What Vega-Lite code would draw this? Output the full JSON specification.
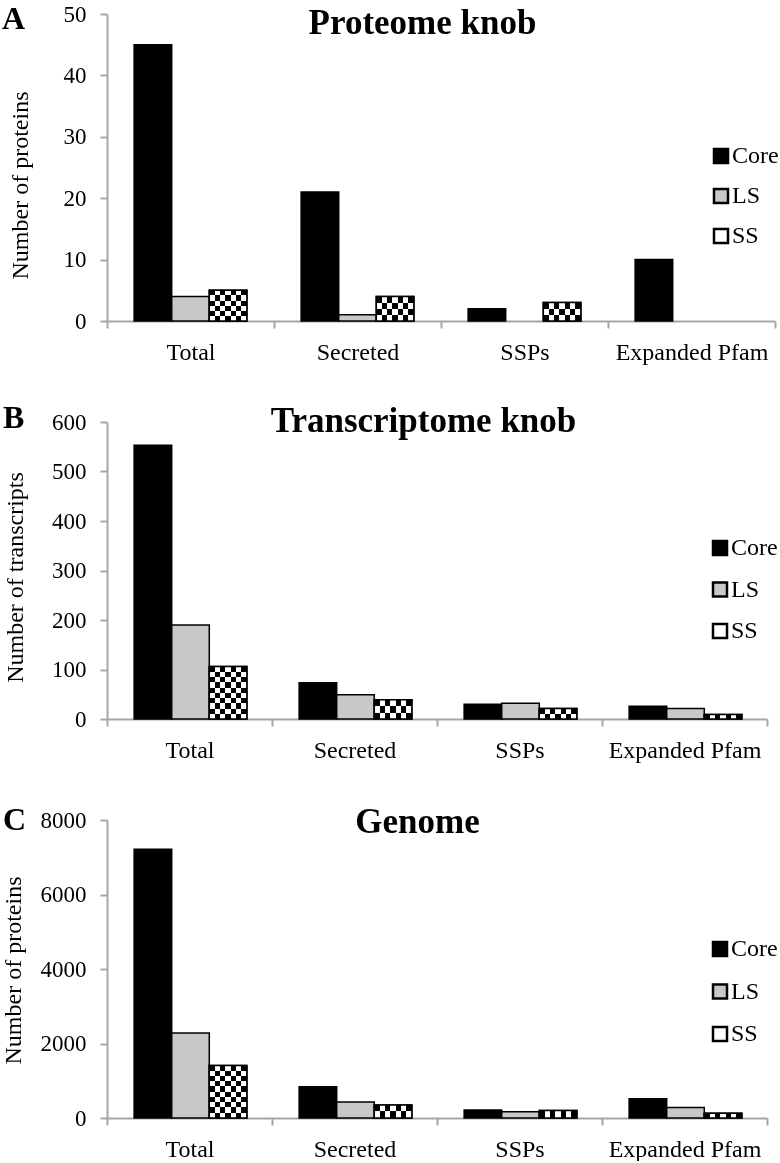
{
  "$schema": "https://vega.github.io/schema/vega-lite/v6.json",
  "background": "white",
  "padding": {"left": 0, "top": 3, "right": 0, "bottom": 0},
  "spacing": 101,
  "bounds": "flush",
  "resolve": {"scale": {"fill": "independent"}, "legend": {"fill": "independent"}},
  "datasets": {
    "proteome": [
      {"category": "Total", "series": "Core", "value": 45},
      {"category": "Total", "series": "LS", "value": 4},
      {"category": "Total", "series": "SS", "value": 5},
      {"category": "Secreted", "series": "Core", "value": 21},
      {"category": "Secreted", "series": "LS", "value": 1},
      {"category": "Secreted", "series": "SS", "value": 4},
      {"category": "SSPs", "series": "Core", "value": 2},
      {"category": "SSPs", "series": "LS", "value": 0},
      {"category": "SSPs", "series": "SS", "value": 3},
      {"category": "Expanded Pfam", "series": "Core", "value": 10},
      {"category": "Expanded Pfam", "series": "LS", "value": 0},
      {"category": "Expanded Pfam", "series": "SS", "value": 0}
    ],
    "transcriptome": [
      {"category": "Total", "series": "Core", "value": 553},
      {"category": "Total", "series": "LS", "value": 190},
      {"category": "Total", "series": "SS", "value": 106},
      {"category": "Secreted", "series": "Core", "value": 73},
      {"category": "Secreted", "series": "LS", "value": 49},
      {"category": "Secreted", "series": "SS", "value": 39},
      {"category": "SSPs", "series": "Core", "value": 30},
      {"category": "SSPs", "series": "LS", "value": 32},
      {"category": "SSPs", "series": "SS", "value": 21},
      {"category": "Expanded Pfam", "series": "Core", "value": 26},
      {"category": "Expanded Pfam", "series": "LS", "value": 21},
      {"category": "Expanded Pfam", "series": "SS", "value": 9}
    ],
    "genome": [
      {"category": "Total", "series": "Core", "value": 7214},
      {"category": "Total", "series": "LS", "value": 2280},
      {"category": "Total", "series": "SS", "value": 1411},
      {"category": "Secreted", "series": "Core", "value": 840},
      {"category": "Secreted", "series": "LS", "value": 429},
      {"category": "Secreted", "series": "SS", "value": 349},
      {"category": "SSPs", "series": "Core", "value": 215},
      {"category": "SSPs", "series": "LS", "value": 165},
      {"category": "SSPs", "series": "SS", "value": 200},
      {"category": "Expanded Pfam", "series": "Core", "value": 520},
      {"category": "Expanded Pfam", "series": "LS", "value": 285},
      {"category": "Expanded Pfam", "series": "SS", "value": 130}
    ]
  },
  "vconcat": [
    {
      "width": 668,
      "height": 307,
      "data": {"name": "proteome"},
      "title": {"text": "A", "anchor": "start", "frame": "group", "fontSize": 32, "fontWeight": "bold", "color": "black", "font": "Liberation Serif", "offset": -33, "dx": -105},
      "encoding": {
        "x": {"field": "category", "type": "nominal", "sort": null,
          "scale": {"domain": ["Total", "Secreted", "SSPs", "Expanded Pfam"], "paddingInner": 0, "paddingOuter": 0},
          "axis": {"title": "Proteome knob", "titleFontSize": 35, "titleFontWeight": "bold", "titleX": 315, "titleY": -288, "titleAlign": "center", "titleBaseline": "alphabetic", "labelAngle": 0, "labelFontSize": 24, "labelPadding": 12, "tickBand": "extent"}},
        "xOffset": {"field": "series", "type": "nominal", "scale": {"domain": ["Core", "LS", "SS"], "paddingInner": 0, "paddingOuter": 0.722}},
        "y": {"field": "value", "type": "quantitative", "scale": {"domain": [0, 50], "nice": false},
          "axis": {"title": "Number of proteins", "values": [0, 10, 20, 30, 40, 50], "titleFontSize": 24, "titleFontWeight": "normal", "titleX": -75, "titleY": 171, "labelFontSize": 23, "labelPadding": 14}}
      },
      "layer": [
        {
          "mark": {"type": "bar", "stroke": "black", "strokeWidth": 1.5},
          "encoding": {
            "fill": {"field": "series", "type": "nominal", "scale": {"domain": ["Core", "LS", "SS"], "range": ["black", "#c8c8c8", "white"]},
              "legend": {"orient": "none", "legendX": 602, "legendY": 130, "title": null, "rowPadding": 16}},
            "strokeOpacity": {"condition": {"test": "datum.value == 0", "value": 0}, "value": 1}
          }
        },
        {
          "transform": [{"filter": "datum.series === 'SS' && datum.value > 0"}],
          "mark": {"type": "bar", "stroke": "black", "strokeWidth": 1.5,
            "fill": {"gradient": "linear", "x1": 0, "y1": 0, "x2": 1, "y2": 0, "stops": [{"offset": 0, "color": "black"}, {"offset": 0.142857, "color": "black"}, {"offset": 0.142857, "color": "white"}, {"offset": 0.285714, "color": "white"}, {"offset": 0.285714, "color": "black"}, {"offset": 0.428571, "color": "black"}, {"offset": 0.428571, "color": "white"}, {"offset": 0.571429, "color": "white"}, {"offset": 0.571429, "color": "black"}, {"offset": 0.714286, "color": "black"}, {"offset": 0.714286, "color": "white"}, {"offset": 0.857143, "color": "white"}, {"offset": 0.857143, "color": "black"}, {"offset": 1, "color": "black"}]}}
        },
        {
          "transform": [{"filter": "datum.series === 'SS' && datum.value > 0"}],
          "mark": {"type": "bar", "stroke": "black", "strokeWidth": 1.5, "blend": "difference"},
          "encoding": {
            "fill": {
              "condition": [
                {"test": "datum.category === 'Total'", "value": {"gradient": "linear", "x1": 0, "y1": 0, "x2": 0, "y2": 1, "stops": [{"offset": 0, "color": "black"}, {"offset": 0.166667, "color": "black"}, {"offset": 0.166667, "color": "white"}, {"offset": 0.333333, "color": "white"}, {"offset": 0.333333, "color": "black"}, {"offset": 0.5, "color": "black"}, {"offset": 0.5, "color": "white"}, {"offset": 0.666667, "color": "white"}, {"offset": 0.666667, "color": "black"}, {"offset": 0.833333, "color": "black"}, {"offset": 0.833333, "color": "white"}, {"offset": 1, "color": "white"}]}},
                {"test": "datum.category === 'Secreted'", "value": {"gradient": "linear", "x1": 0, "y1": 0, "x2": 0, "y2": 1, "stops": [{"offset": 0, "color": "black"}, {"offset": 0.25, "color": "black"}, {"offset": 0.25, "color": "white"}, {"offset": 0.5, "color": "white"}, {"offset": 0.5, "color": "black"}, {"offset": 0.75, "color": "black"}, {"offset": 0.75, "color": "white"}, {"offset": 1, "color": "white"}]}},
                {"test": "datum.category === 'SSPs'", "value": {"gradient": "linear", "x1": 0, "y1": 0, "x2": 0, "y2": 1, "stops": [{"offset": 0, "color": "black"}, {"offset": 0.333333, "color": "black"}, {"offset": 0.333333, "color": "white"}, {"offset": 0.666667, "color": "white"}, {"offset": 0.666667, "color": "black"}, {"offset": 1, "color": "black"}]}}
              ],
              "value": "black"
            }
          }
        }
      ]
    },
    {
      "width": 660,
      "height": 297,
      "data": {"name": "transcriptome"},
      "title": {"text": "B", "anchor": "start", "frame": "group", "fontSize": 32, "fontWeight": "bold", "color": "black", "font": "Liberation Serif", "offset": -32, "dx": -104},
      "encoding": {
        "x": {"field": "category", "type": "nominal", "sort": null,
          "scale": {"domain": ["Total", "Secreted", "SSPs", "Expanded Pfam"], "paddingInner": 0, "paddingOuter": 0},
          "axis": {"title": "Transcriptome knob", "titleFontSize": 35, "titleFontWeight": "bold", "titleX": 316, "titleY": -288, "titleAlign": "center", "titleBaseline": "alphabetic", "labelAngle": 0, "labelFontSize": 24, "labelPadding": 12, "tickBand": "extent"}},
        "xOffset": {"field": "series", "type": "nominal", "scale": {"domain": ["Core", "LS", "SS"], "paddingInner": 0, "paddingOuter": 0.79}},
        "y": {"field": "value", "type": "quantitative", "scale": {"domain": [0, 600], "nice": false},
          "axis": {"title": "Number of transcripts", "values": [0, 100, 200, 300, 400, 500, 600], "titleFontSize": 24, "titleFontWeight": "normal", "titleX": -80, "titleY": 155, "labelFontSize": 23, "labelPadding": 14}}
      },
      "layer": [
        {
          "mark": {"type": "bar", "stroke": "black", "strokeWidth": 1.5},
          "encoding": {
            "fill": {"field": "series", "type": "nominal", "scale": {"domain": ["Core", "LS", "SS"], "range": ["black", "#c8c8c8", "white"]},
              "legend": {"orient": "none", "legendX": 601, "legendY": 114, "title": null, "rowPadding": 17.5}},
            "strokeOpacity": {"condition": {"test": "datum.value == 0", "value": 0}, "value": 1}
          }
        },
        {
          "transform": [{"filter": "datum.series === 'SS' && datum.value > 0"}],
          "mark": {"type": "bar", "stroke": "black", "strokeWidth": 1.5,
            "fill": {"gradient": "linear", "x1": 0, "y1": 0, "x2": 1, "y2": 0, "stops": [{"offset": 0, "color": "black"}, {"offset": 0.142857, "color": "black"}, {"offset": 0.142857, "color": "white"}, {"offset": 0.285714, "color": "white"}, {"offset": 0.285714, "color": "black"}, {"offset": 0.428571, "color": "black"}, {"offset": 0.428571, "color": "white"}, {"offset": 0.571429, "color": "white"}, {"offset": 0.571429, "color": "black"}, {"offset": 0.714286, "color": "black"}, {"offset": 0.714286, "color": "white"}, {"offset": 0.857143, "color": "white"}, {"offset": 0.857143, "color": "black"}, {"offset": 1, "color": "black"}]}}
        },
        {
          "transform": [{"filter": "datum.series === 'SS' && datum.value > 0"}],
          "mark": {"type": "bar", "stroke": "black", "strokeWidth": 1.5, "blend": "difference"},
          "encoding": {
            "fill": {
              "condition": [
                {"test": "datum.category === 'Total'", "value": {"gradient": "linear", "x1": 0, "y1": 0, "x2": 0, "y2": 1, "stops": [{"offset": 0, "color": "black"}, {"offset": 0.1, "color": "black"}, {"offset": 0.1, "color": "white"}, {"offset": 0.2, "color": "white"}, {"offset": 0.2, "color": "black"}, {"offset": 0.3, "color": "black"}, {"offset": 0.3, "color": "white"}, {"offset": 0.4, "color": "white"}, {"offset": 0.4, "color": "black"}, {"offset": 0.5, "color": "black"}, {"offset": 0.5, "color": "white"}, {"offset": 0.6, "color": "white"}, {"offset": 0.6, "color": "black"}, {"offset": 0.7, "color": "black"}, {"offset": 0.7, "color": "white"}, {"offset": 0.8, "color": "white"}, {"offset": 0.8, "color": "black"}, {"offset": 0.9, "color": "black"}, {"offset": 0.9, "color": "white"}, {"offset": 1, "color": "white"}]}},
                {"test": "datum.category === 'Secreted'", "value": {"gradient": "linear", "x1": 0, "y1": 0, "x2": 0, "y2": 1, "stops": [{"offset": 0, "color": "black"}, {"offset": 0.333333, "color": "black"}, {"offset": 0.333333, "color": "white"}, {"offset": 0.666667, "color": "white"}, {"offset": 0.666667, "color": "black"}, {"offset": 1, "color": "black"}]}},
                {"test": "datum.category === 'SSPs'", "value": {"gradient": "linear", "x1": 0, "y1": 0, "x2": 0, "y2": 1, "stops": [{"offset": 0, "color": "black"}, {"offset": 0.5, "color": "black"}, {"offset": 0.5, "color": "white"}, {"offset": 1, "color": "white"}]}}
              ],
              "value": "black"
            }
          }
        }
      ]
    },
    {
      "width": 660,
      "height": 298,
      "data": {"name": "genome"},
      "title": {"text": "C", "anchor": "start", "frame": "group", "fontSize": 32, "fontWeight": "bold", "color": "black", "font": "Liberation Serif", "offset": -33, "dx": -104},
      "encoding": {
        "x": {"field": "category", "type": "nominal", "sort": null,
          "scale": {"domain": ["Total", "Secreted", "SSPs", "Expanded Pfam"], "paddingInner": 0, "paddingOuter": 0},
          "axis": {"title": "Genome", "titleFontSize": 35, "titleFontWeight": "bold", "titleX": 310, "titleY": -286, "titleAlign": "center", "titleBaseline": "alphabetic", "labelAngle": 0, "labelFontSize": 24, "labelPadding": 12, "tickBand": "extent"}},
        "xOffset": {"field": "series", "type": "nominal", "scale": {"domain": ["Core", "LS", "SS"], "paddingInner": 0, "paddingOuter": 0.739}},
        "y": {"field": "value", "type": "quantitative", "scale": {"domain": [0, 8000], "nice": false},
          "axis": {"title": "Number of proteins", "values": [0, 2000, 4000, 6000, 8000], "format": "d", "titleFontSize": 24, "titleFontWeight": "normal", "titleX": -82, "titleY": 150, "labelFontSize": 23, "labelPadding": 14}}
      },
      "layer": [
        {
          "mark": {"type": "bar", "stroke": "black", "strokeWidth": 1.5},
          "encoding": {
            "fill": {"field": "series", "type": "nominal", "scale": {"domain": ["Core", "LS", "SS"], "range": ["black", "#c8c8c8", "white"]},
              "legend": {"orient": "none", "legendX": 601, "legendY": 117, "title": null, "rowPadding": 18.5}},
            "strokeOpacity": {"condition": {"test": "datum.value == 0", "value": 0}, "value": 1}
          }
        },
        {
          "transform": [{"filter": "datum.series === 'SS' && datum.value > 0"}],
          "mark": {"type": "bar", "stroke": "black", "strokeWidth": 1.5,
            "fill": {"gradient": "linear", "x1": 0, "y1": 0, "x2": 1, "y2": 0, "stops": [{"offset": 0, "color": "black"}, {"offset": 0.142857, "color": "black"}, {"offset": 0.142857, "color": "white"}, {"offset": 0.285714, "color": "white"}, {"offset": 0.285714, "color": "black"}, {"offset": 0.428571, "color": "black"}, {"offset": 0.428571, "color": "white"}, {"offset": 0.571429, "color": "white"}, {"offset": 0.571429, "color": "black"}, {"offset": 0.714286, "color": "black"}, {"offset": 0.714286, "color": "white"}, {"offset": 0.857143, "color": "white"}, {"offset": 0.857143, "color": "black"}, {"offset": 1, "color": "black"}]}}
        },
        {
          "transform": [{"filter": "datum.series === 'SS' && datum.value > 0"}],
          "mark": {"type": "bar", "stroke": "black", "strokeWidth": 1.5, "blend": "difference"},
          "encoding": {
            "fill": {
              "condition": [
                {"test": "datum.category === 'Total'", "value": {"gradient": "linear", "x1": 0, "y1": 0, "x2": 0, "y2": 1, "stops": [{"offset": 0, "color": "black"}, {"offset": 0.1, "color": "black"}, {"offset": 0.1, "color": "white"}, {"offset": 0.2, "color": "white"}, {"offset": 0.2, "color": "black"}, {"offset": 0.3, "color": "black"}, {"offset": 0.3, "color": "white"}, {"offset": 0.4, "color": "white"}, {"offset": 0.4, "color": "black"}, {"offset": 0.5, "color": "black"}, {"offset": 0.5, "color": "white"}, {"offset": 0.6, "color": "white"}, {"offset": 0.6, "color": "black"}, {"offset": 0.7, "color": "black"}, {"offset": 0.7, "color": "white"}, {"offset": 0.8, "color": "white"}, {"offset": 0.8, "color": "black"}, {"offset": 0.9, "color": "black"}, {"offset": 0.9, "color": "white"}, {"offset": 1, "color": "white"}]}},
                {"test": "datum.category === 'Secreted'", "value": {"gradient": "linear", "x1": 0, "y1": 0, "x2": 0, "y2": 1, "stops": [{"offset": 0, "color": "black"}, {"offset": 0.5, "color": "black"}, {"offset": 0.5, "color": "white"}, {"offset": 1, "color": "white"}]}}
              ],
              "value": "black"
            }
          }
        }
      ]
    }
  ],
  "config": {
    "font": "Liberation Serif",
    "view": {"stroke": null},
    "axis": {"domainColor": "#a6a6a6", "domainWidth": 2, "tickColor": "#a6a6a6", "tickWidth": 2, "tickSize": 7, "labelColor": "black", "titleColor": "black", "grid": false, "labelFont": "Liberation Serif", "titleFont": "Liberation Serif"},
    "legend": {"symbolType": "square", "symbolSize": 196, "symbolStrokeColor": "black", "symbolStrokeWidth": 2.5, "labelFont": "Liberation Serif", "labelFontSize": 24, "labelColor": "black", "labelOffset": -1, "padding": 0}
  }
}
